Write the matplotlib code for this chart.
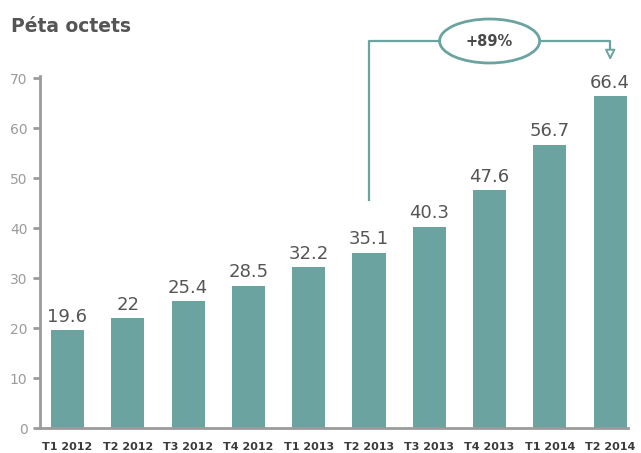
import matplotlib
matplotlib.use("Agg")
import matplotlib.pyplot as plt
from matplotlib.patches import Ellipse

# Data
quarters = ["T1 2012", "T2 2012", "T3 2012", "T4 2012", "T1 2013",
            "T2 2013", "T3 2013", "T4 2013", "T1 2014", "T2 2014"]
values = [19.6, 22, 25.4, 28.5, 32.2, 35.1, 40.3, 47.6, 56.7, 66.4]
value_labels = ["19.6", "22", "25.4", "28.5", "32.2", "35.1", "40.3", "47.6", "56.7", "66.4"]
yticks = [0, 10, 20, 30, 40, 50, 60, 70]
growth_label = "+89%"

teal = "#6aa39f"
grey = "#9b9b9b"
plt.rcParams['font.family'] = ['DejaVu Sans']

fig = plt.figure(figsize=(6.41, 4.53), dpi=100)
W, H = 641, 453
ax = fig.add_axes([40 / W, (H - 428) / H, (628 - 40) / W, (428 - 76) / H])

x = list(range(len(quarters)))
ax.bar(x, values, width=0.55, color=teal, zorder=2)

for xi, v, lab in zip(x, values, value_labels):
    ax.annotate(lab, (xi, v), xytext=(0, 3), textcoords="offset points",
                ha="center", va="bottom", fontsize=13, color="#555555")

ax.set_xlim(-0.456, 9.295)
ax.set_ylim(0, 70.4)
ax.set_yticks(yticks)
ax.set_yticklabels([str(t) for t in yticks], fontsize=10, color=grey)
ax.set_xticks(x)
ax.set_xticklabels(quarters, fontsize=8, fontweight="bold", color="#3a3a3a")
ax.tick_params(axis="y", length=5, width=2, color=grey, pad=4)
ax.tick_params(axis="x", length=0, pad=10)
for s in ["top", "right"]:
    ax.spines[s].set_visible(False)
for s in ["left", "bottom"]:
    ax.spines[s].set_color(grey)
    ax.spines[s].set_linewidth(2)

# growth annotation: from T2 2013 to T2 2014
i0, i1 = 5, 9
y_top = 77.4
ax.plot([i0, i0, 6.17], [45.6, y_top, y_top], color=teal, lw=1.6, clip_on=False)
ax.plot([7.83, i1, i1], [y_top, y_top, 75.4], color=teal, lw=1.6, clip_on=False)
ax.annotate("", xy=(i1, 73.0), xytext=(i1, 75.6),
            arrowprops=dict(arrowstyle="-|>,head_length=0.6,head_width=0.3",
                            fc="white", ec=teal, lw=1.4),
            annotation_clip=False)
ell = Ellipse((7.0, y_top), 1.66, 8.8, fc="white", ec=teal, lw=2, clip_on=False)
ax.add_patch(ell)
ax.text(7.0, y_top, growth_label, ha="center", va="center", fontsize=10.5,
        fontweight="bold", color="#4a4a4a", clip_on=False)

fig.text(11 / W, 1 - 32 / H, "Péta octets", fontsize=13.5, fontweight="bold",
         color="#555555", va="baseline", ha="left")

fig.savefig("out.png", dpi=100)
